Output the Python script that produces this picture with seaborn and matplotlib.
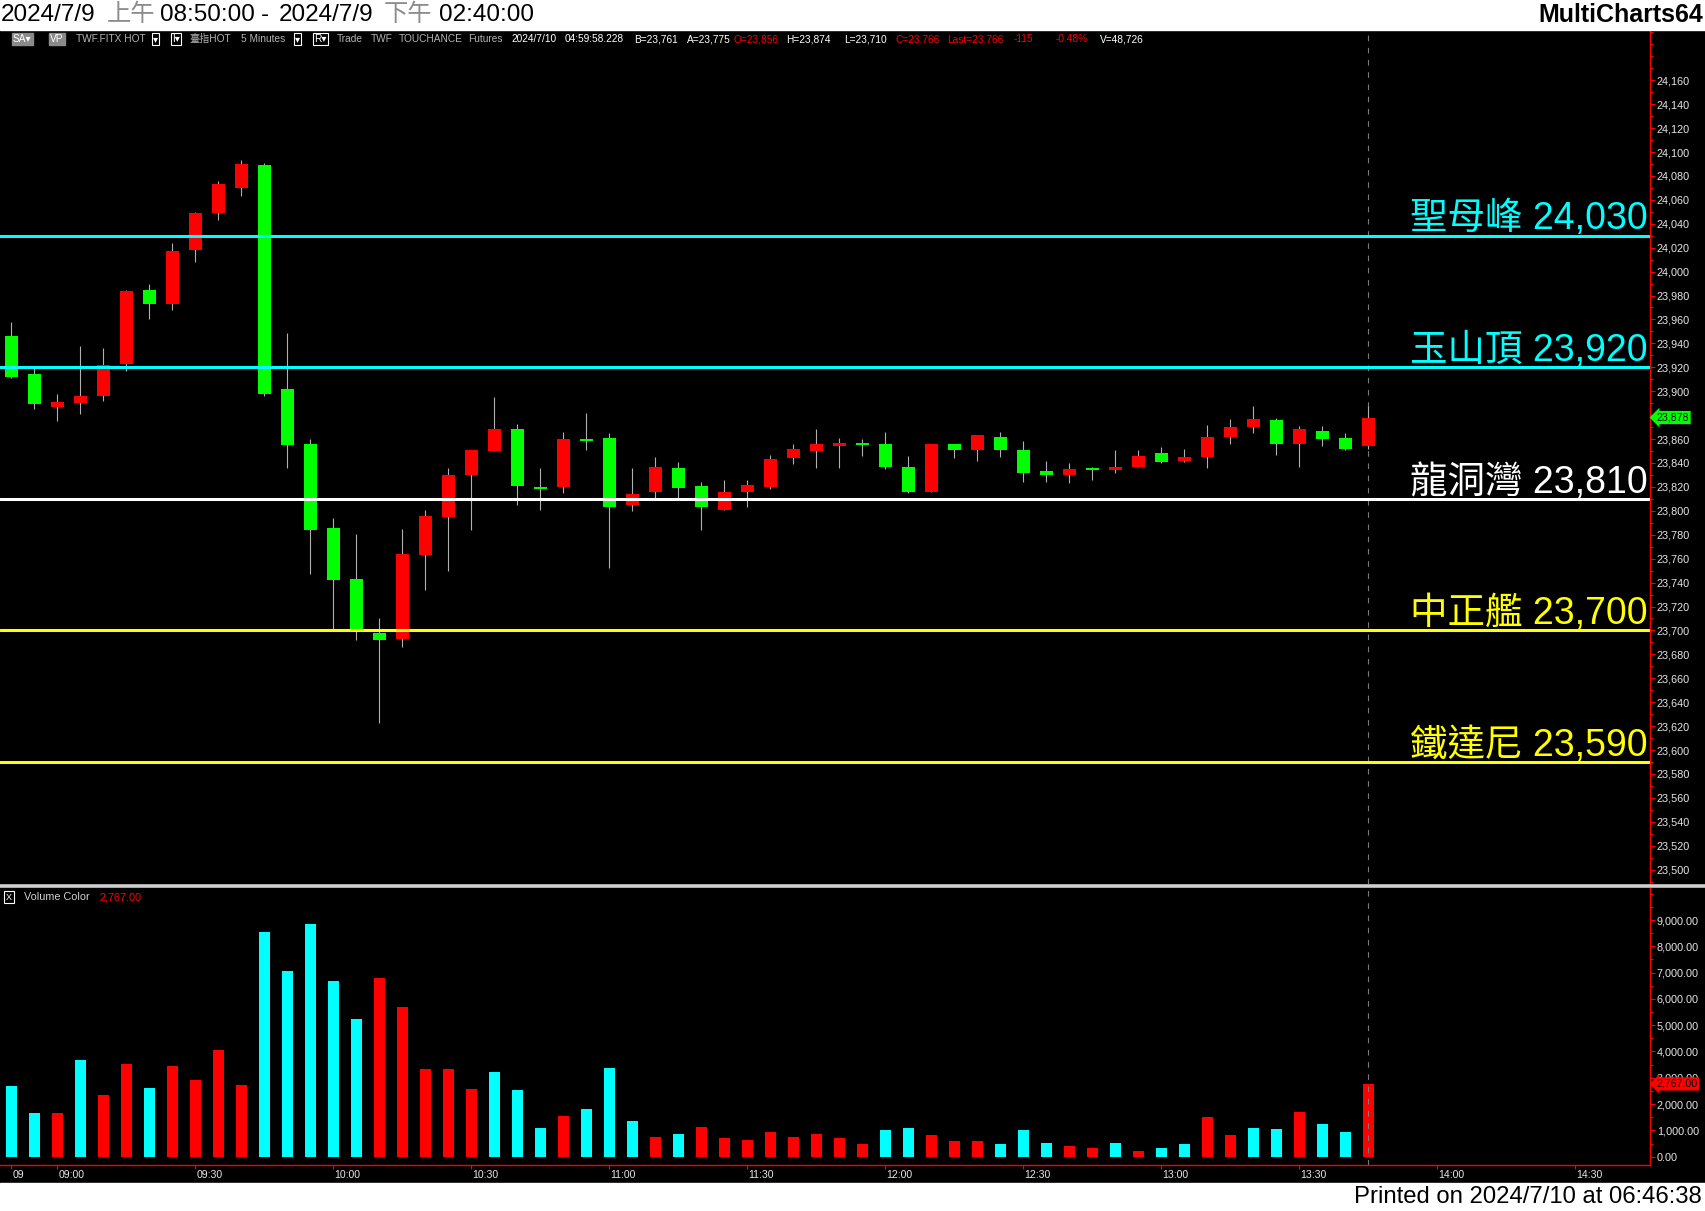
import numpy as np
import pandas as pd
import matplotlib
matplotlib.use("Agg")
import matplotlib.pyplot as plt
import matplotlib.transforms as mtransforms
from matplotlib.ticker import FuncFormatter, MultipleLocator
import seaborn as sns

# 5-minute bars, TWF.FITX HOT, 2024/7/9 08:50 - 13:45
opens = [23946, 23914, 23887, 23890, 23896, 23923, 23985, 23973, 24018, 24049,
         24070, 24089, 23902, 23856, 23786, 23743, 23698, 23693, 23763, 23795,
         23830, 23850, 23868, 23820, 23820, 23860, 23861, 23805, 23816, 23836,
         23821, 23801, 23816, 23820, 23844, 23850, 23854, 23856, 23856, 23837,
         23816, 23856, 23851, 23862, 23851, 23833, 23830, 23836, 23834, 23837,
         23848, 23842, 23845, 23862, 23870, 23876, 23856, 23867, 23861, 23854]
highs = [23958, 23919, 23898, 23938, 23936, 23985, 23990, 24024, 24050, 24076,
         24093, 24091, 23949, 23860, 23794, 23781, 23710, 23785, 23801, 23836,
         23851, 23895, 23873, 23836, 23866, 23882, 23865, 23836, 23845, 23841,
         23824, 23826, 23826, 23847, 23856, 23868, 23861, 23860, 23866, 23846,
         23856, 23856, 23863, 23866, 23858, 23842, 23840, 23837, 23851, 23851,
         23853, 23852, 23872, 23877, 23888, 23878, 23871, 23871, 23865, 23888]
lows = [23911, 23885, 23875, 23881, 23892, 23917, 23960, 23968, 24008, 24043,
        24063, 23896, 23836, 23747, 23701, 23692, 23623, 23686, 23734, 23750,
        23784, 23850, 23805, 23801, 23815, 23851, 23752, 23800, 23811, 23811,
        23784, 23801, 23803, 23818, 23839, 23836, 23836, 23846, 23835, 23815,
        23816, 23844, 23842, 23845, 23824, 23824, 23823, 23826, 23832, 23837,
        23840, 23841, 23836, 23856, 23865, 23847, 23837, 23854, 23851, 23852]
closes = [23912, 23889, 23891, 23896, 23922, 23984, 23973, 24017, 24049, 24073,
          24090, 23898, 23855, 23784, 23742, 23701, 23692, 23764, 23796, 23830,
          23851, 23868, 23821, 23818, 23860, 23859, 23803, 23814, 23837, 23819,
          23803, 23816, 23822, 23843, 23852, 23856, 23857, 23855, 23837, 23816,
          23856, 23851, 23863, 23851, 23832, 23830, 23835, 23834, 23837, 23846,
          23841, 23845, 23862, 23870, 23877, 23856, 23868, 23860, 23852, 23878]

volume = [2690, 1660, 1660, 3670, 2340, 3520, 2610, 3450, 2910, 4050,
          2720, 8540, 7060, 8840, 6680, 5230, 6790, 5690, 3330, 3330,
          2570, 3220, 2530, 1090, 1550, 1810, 3370, 1360, 750, 860,
          1140, 720, 650, 950, 760, 870, 720, 490, 1030, 1100,
          840, 610, 610, 490, 1030, 530, 420, 340, 530, 230,
          340, 490, 1520, 840, 1100, 1060, 1710, 1250, 950, 2767]
vol_side = ["down", "down", "up", "down", "up", "up", "down", "up", "up", "up",
            "up", "down", "down", "down", "down", "down", "up", "up", "up", "up",
            "up", "down", "down", "down", "up", "down", "down", "down", "up", "down",
            "up", "up", "up", "up", "up", "up", "up", "up", "down", "down",
            "up", "up", "up", "down", "down", "down", "up", "up", "down", "up",
            "down", "down", "up", "up", "down", "down", "up", "down", "down", "up"]

levels = [24030, 23920, 23810, 23700, 23590]
level_names = ["聖母峰", "玉山頂", "龍洞灣", "中正艦", "鐵達尼"]
level_colors = ["#00ffff", "#00ffff", "#ffffff", "#ffff00", "#ffff00"]

tick_labels = ["09", "09:00", "09:30", "10:00", "10:30", "11:00", "11:30",
               "12:00", "12:30", "13:00", "13:30", "14:00", "14:30"]
last_price = 23878
last_volume = 2767

# time slots shown on the axis (08:50 .. 14:40)
slots = pd.date_range("2024-07-09 08:50", "2024-07-09 14:40", freq="5min")
slot_str = [t.strftime("%H:%M") for t in slots]
tick_pos = [0] + [slot_str.index(s) for s in tick_labels[1:]]

sns.set_theme(style="dark", rc={"axes.facecolor": "black", "figure.facecolor": "black",
                                "axes.grid": False})
plt.rcParams["font.family"] = ["Liberation Sans", "Noto Sans CJK TC", "DejaVu Sans"]

W, H = 1705, 1211
fig = plt.figure(figsize=(W / 100, H / 100), dpi=100)
fig.patch.set_facecolor("black")


def fx(x):
    return x / W


def fy(y):
    return 1 - y / H


# white strips top and bottom
fig.patches.append(plt.Rectangle((0, fy(30)), 1, 30 / H, transform=fig.transFigure,
                                 color="white", zorder=0))
fig.patches.append(plt.Rectangle((0, 0), 1, 28 / H, transform=fig.transFigure,
                                 color="white", zorder=0))

ax = fig.add_axes([0, fy(884), fx(1650), (884 - 30) / H])
axv = fig.add_axes([0, fy(1165), fx(1650), (1165 - 888) / H])

idx = np.arange(len(opens))
o = np.array(opens)
c = np.array(closes)
body_col = np.where(c >= o, "#ff0000", "#00ff00")
body_h = np.maximum(np.abs(c - o), 1.7)
body_b = np.minimum(o, c) - (body_h - np.abs(c - o)) / 2

ax.vlines(idx, lows, highs, color="#b0b0b0", lw=0.8, zorder=2)
ax.bar(idx, body_h, bottom=body_b, width=0.565, color=body_col, linewidth=0, zorder=3)

for lv, name, col in zip(levels, level_names, level_colors):
    ax.axhline(lv, color=col, lw=2.2, zorder=4)
    ax.annotate(f"{name} {lv:,}", xy=(1.0, lv), xycoords=("axes fraction", "data"),
                xytext=(-1.5, 4.5), textcoords="offset points", ha="right", va="baseline",
                color=col, fontsize=27, fontweight="light", zorder=5)

ax.set_xlim(-0.491, 71.25)
ax.set_ylim(23488, 24202)

# volume panel
df_vol = pd.DataFrame({"bar": idx, "volume": volume, "side": vol_side})
sns.barplot(data=df_vol, x="bar", y="volume", hue="side",
            palette={"up": "#ff0000", "down": "#00ffff"}, native_scale=True,
            dodge=False, width=0.5, saturation=1, errorbar=None, legend=False,
            linewidth=0, ax=axv)
axv.set_xlim(-0.491, 71.25)
axv.set_ylim(-316, 10217)
axv.set_xlabel("")
axv.set_ylabel("")

for a in (ax, axv):
    a.axvline(idx[-1], color="#7a7a7a", lw=0.8, ls=(0, (5, 6)), zorder=1)
    for s in ("left", "top", "bottom"):
        a.spines[s].set_visible(False)
    a.spines["right"].set_color("#ff0000")
    a.spines["right"].set_linewidth(1.0)
    a.yaxis.tick_right()
    a.tick_params(axis="y", which="both", right=True, left=False, labelright=True,
                  labelleft=False, color="#ff0000", labelcolor="#e6e6e6",
                  labelsize=7.8, direction="out", pad=1.5, width=0.8)
    a.tick_params(axis="y", which="major", length=3.5)
    a.tick_params(axis="y", which="minor", length=2)

ax.set_yticks(np.arange(23500, 24161, 20))
ax.yaxis.set_minor_locator(MultipleLocator(10))
ax.yaxis.set_major_formatter(FuncFormatter(lambda v, p: f"{v:,.0f}"))
ax.set_xticks([])

axv.set_yticks(np.arange(0, 9001, 1000))
axv.yaxis.set_minor_locator(MultipleLocator(500))
axv.yaxis.set_major_formatter(FuncFormatter(lambda v, p: f"{v:,.2f}"))

axv.spines["bottom"].set_visible(True)
axv.spines["bottom"].set_color("#ff0000")
axv.spines["bottom"].set_linewidth(1.0)
axv.set_xticks(tick_pos)
axv.set_xticklabels(tick_labels)
axv.tick_params(axis="x", bottom=True, color="#ff0000", labelcolor="#e6e6e6",
                labelsize=7.6, length=3, width=0.8, pad=0.5, direction="out")
shift = mtransforms.ScaledTranslation(1 / 100, 0, fig.dpi_scale_trans)
for lab in axv.get_xticklabels():
    lab.set_horizontalalignment("left")
    lab.set_transform(lab.get_transform() + shift)

# last value tags on the right axis
tag_kw = dict(boxstyle="larrow,pad=0.15", ec="none")
ax.text(1.004, last_price, f"{last_price:,}", transform=mtransforms.blended_transform_factory(
    ax.transAxes, ax.transData), va="center", ha="left", fontsize=7.7, color="black",
    bbox=dict(fc="#00ff00", **tag_kw), clip_on=False, zorder=6)
axv.text(1.004, last_volume, f"{last_volume:,.2f}", transform=mtransforms.blended_transform_factory(
    axv.transAxes, axv.transData), va="center", ha="left", fontsize=7.7, color="black",
    bbox=dict(fc="#ff0000", **tag_kw), clip_on=False, zorder=6)

# separator between panels
fig.add_artist(plt.Line2D([0, 1], [fy(885.5), fy(885.5)], transform=fig.transFigure,
                          color="#cfcfcf", lw=2.6))

# header line
hdr = [(1, "2024/7/9", "black"), (107, "上午", "#8c8c8c"), (160, "08:50:00", "black"),
       (261, "-", "black"), (279, "2024/7/9", "black"), (384, "下午", "#8c8c8c"),
       (439, "02:40:00", "black")]
for x, t, col in hdr:
    fig.text(fx(x), fy(15), t, ha="left", va="center", fontsize=17.5, color=col)
fig.text(fx(1703), fy(15), "MultiCharts64", ha="right", va="center", fontsize=18,
         fontweight="bold", color="black")
fig.text(fx(1702), fy(1197), "Printed on 2024/7/10 at 06:46:38", ha="right",
         va="center", fontsize=17.2, color="black")

# info bar inside the price panel
grey_box = dict(boxstyle="square,pad=0.12", fc="#8a8a8a", ec="#8a8a8a")
line_box = dict(boxstyle="square,pad=0.12", fc="black", ec="white", lw=0.8)
info = [(13, "SA▾", "white", grey_box), (50, "VP", "white", grey_box),
        (76, "TWF.FITX HOT", "#b4b4b4", None), (153, "▾", "white", line_box),
        (172, "I▾", "white", line_box), (189, "臺指HOT", "#b4b4b4", None),
        (241, "5 Minutes", "#b4b4b4", None), (295, "▾", "white", line_box),
        (314, "R▾", "white", line_box), (337, "Trade", "#b4b4b4", None),
        (371, "TWF", "#b4b4b4", None), (399, "TOUCHANCE", "#b4b4b4", None),
        (468, "Futures", "#b4b4b4", None), (511, "2024/7/10", "white", None),
        (565, "04:59:58.228", "white", None), (634, "B=23,761", "white", None),
        (687, "A=23,775", "white", None), (734, "O=23,856", "#ff0000", None),
        (786, "H=23,874", "white", None), (844, "L=23,710", "white", None),
        (896, "C=23,766", "#ff0000", None), (947, "Last=23,766", "#ff0000", None),
        (1014, "-115", "#ff0000", None), (1056, "-0.48%", "#ff0000", None),
        (1100, "V=48,726", "white", None)]
for x, t, col, box in info:
    fig.text(fx(x), fy(39), t, ha="left", va="center", fontsize=7.3, color=col, bbox=box)

# volume panel caption
fig.text(fx(6), fy(897), "X", ha="left", va="center", fontsize=6.5, color="white",
         bbox=dict(boxstyle="square,pad=0.2", fc="black", ec="white", lw=0.8))
fig.text(fx(24), fy(897), "Volume Color", ha="left", va="center", fontsize=7.8,
         color="#d0d0d0")
fig.text(fx(100), fy(897), f"{last_volume:,.2f}", ha="left", va="center", fontsize=7.8,
         color="#ff0000")

fig.savefig("out.png", dpi=100, facecolor=fig.get_facecolor())
